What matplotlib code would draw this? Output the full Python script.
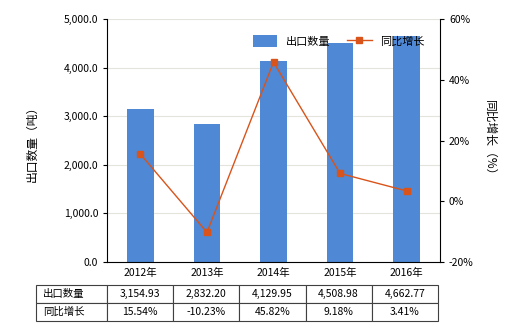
import numpy as np
import matplotlib
matplotlib.use('Agg')
import matplotlib.pyplot as plt

plt.rcParams['font.family'] = ['Noto Sans CJK SC', 'DejaVu Sans']
plt.rcParams['font.size'] = 7.5

years = ['2012年', '2013年', '2014年', '2015年', '2016年']
export_qty = [3154.93, 2832.20, 4129.95, 4508.98, 4662.77]
yoy_growth = [15.54, -10.23, 45.82, 9.18, 3.41]
qty_labels = ['3,154.93', '2,832.20', '4,129.95', '4,508.98', '4,662.77']
growth_labels = ['15.54%', '-10.23%', '45.82%', '9.18%', '3.41%']

BAR_COLOR = '#4f88d4'
LINE_COLOR = '#d9541a'

fig = plt.figure(figsize=(5.2, 3.3), dpi=100)
ax = fig.add_axes([0.206, 0.206, 0.640, 0.736])
x = np.arange(len(years))

ax.bar(x, export_qty, width=0.4, color=BAR_COLOR, label='出口数量', zorder=2)
ax.set_ylim(0, 5000)
ax.set_xlim(-0.5, len(years) - 0.5)
ax.set_yticks(np.arange(0, 5001, 1000))
ax.set_yticklabels(['{:,.1f}'.format(v) for v in np.arange(0, 5001, 1000)])
ax.set_xticks(x)
ax.set_xticklabels(years)
ax.grid(axis='y', color='#e4e4dc', lw=0.8, zorder=0)
ax.set_ylabel('出口数量（吨）', fontsize=8.5, labelpad=18)
for s in ['top', 'right']:
    ax.spines[s].set_visible(False)
ax.tick_params(axis='x', length=0, pad=4)
ax.tick_params(axis='y', length=3)

ax2 = ax.twinx()
ax2.plot(x, yoy_growth, color=LINE_COLOR, lw=1, marker='s', ms=4, label='同比增长', zorder=3)
ax2.set_ylim(-20, 60)
ax2.set_yticks(np.arange(-20, 61, 20))
ax2.set_yticklabels(['{:d}%'.format(v) for v in np.arange(-20, 61, 20)])
ax2.set_ylabel('同比增长（%）', fontsize=8.5, rotation=-90, labelpad=16)
for s in ['top', 'left', 'bottom']:
    ax2.spines[s].set_visible(False)
ax2.tick_params(axis='y', length=3)

h1, l1 = ax.get_legend_handles_labels()
h2, l2 = ax2.get_legend_handles_labels()
ax.legend(h1 + h2, l1 + l2, loc='upper right', bbox_to_anchor=(0.985, 0.975), ncol=2,
          frameon=False, fontsize=8, handlelength=2.2, handleheight=1.3,
          columnspacing=1.5)

# data table under the chart
tax = fig.add_axes([0.069, 0.027, 0.773, 0.109])
tax.axis('off')
cells = [['出口数量'] + qty_labels, ['同比增长'] + growth_labels]
tbl = tax.table(cellText=cells, bbox=[0, 0, 1, 1],
                colWidths=[0.177] + [0.1646] * 5, cellLoc='center')
tbl.auto_set_font_size(False)
tbl.set_fontsize(7.5)
for (r, c), cell in tbl.get_celld().items():
    cell.set_edgecolor('#404040')
    cell.set_linewidth(0.8)
    if c == 0:
        cell.set_text_props(ha='left')
        cell._loc = 'left'

fig.savefig('out.png', dpi=100)
